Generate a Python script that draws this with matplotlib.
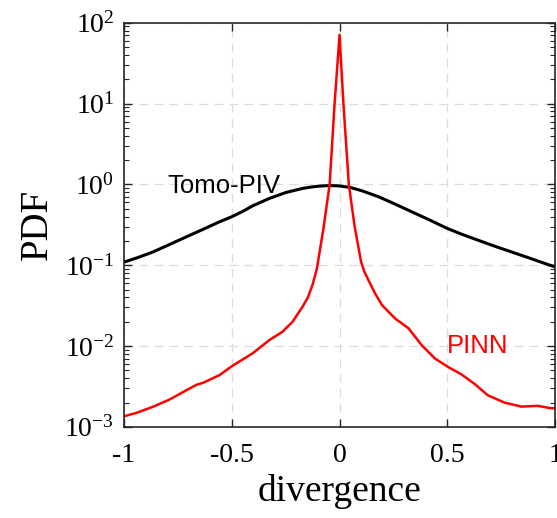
import matplotlib
matplotlib.use('Agg')
import matplotlib.pyplot as plt
import numpy as np
from matplotlib.ticker import LogLocator, NullFormatter

# Tomo-PIV divergence PDF (log10 values)
tomo_x = [-1.0, -0.93, -0.864, -0.79, -0.71, -0.63, -0.557, -0.5, -0.45, -0.403,
          -0.326, -0.249, -0.172, -0.13, -0.095, -0.06, -0.034, 0.0, 0.05, 0.104,
          0.181, 0.258, 0.335, 0.412, 0.5, 0.565, 0.642, 0.719, 0.796, 0.873,
          0.965, 1.0]
tomo_log = [-0.962, -0.90, -0.834, -0.745, -0.648, -0.552, -0.463, -0.40, -0.335, -0.265,
            -0.174, -0.10, -0.05, -0.032, -0.021, -0.016, -0.015, -0.019, -0.038, -0.079,
            -0.153, -0.244, -0.339, -0.433, -0.545, -0.615, -0.69, -0.764, -0.834, -0.904,
            -0.99, -1.02]

# PINN divergence PDF
pinn_x = [-1.0, -0.942, -0.864, -0.787, -0.71, -0.664, -0.633, -0.557, -0.5, -0.403,
          -0.326, -0.265, -0.218, -0.172, -0.147, -0.125, -0.105, -0.075, -0.046, -0.023,
          0.0, 0.018, 0.043, 0.07, 0.1, 0.115, 0.135, 0.165, 0.197, 0.258,
          0.32, 0.381, 0.443, 0.504, 0.565, 0.627, 0.688, 0.765, 0.844, 0.919,
          0.98, 1.0]
pinn_log = [-2.87, -2.827, -2.75, -2.66, -2.546, -2.48, -2.455, -2.36, -2.25, -2.09,
            -1.927, -1.824, -1.70, -1.515, -1.40, -1.24, -1.04, -0.55, 0.0, 1.0,
            1.85, 1.0, 0.0, -0.52, -0.96, -1.08, -1.19, -1.35, -1.494, -1.66,
            -1.78, -1.99, -2.155, -2.26, -2.35, -2.47, -2.61, -2.70, -2.75, -2.74,
            -2.77, -2.77]

plt.rcParams['font.family'] = 'Liberation Serif'
plt.rcParams['mathtext.fontset'] = 'custom'
plt.rcParams['mathtext.rm'] = 'Liberation Serif'
plt.rcParams['axes.unicode_minus'] = False

fig = plt.figure(figsize=(5.57, 5.18), dpi=100)
ax = fig.add_axes([0.2226, 0.176, 0.774, 0.78])

ax.plot(tomo_x, 10 ** np.array(tomo_log), color='black', lw=2.2)
ax.plot(pinn_x, 10 ** np.array(pinn_log), color='#ff0000', lw=1.8)

ax.set_yscale('log')
ax.set_xlim(-1, 1)
ax.set_ylim(1e-3, 1e2)
ax.set_xticks([-1, -0.5, 0, 0.5, 1])
ax.set_xticklabels(['-1', '-0.5', '0', '0.5', '1'])
ax.yaxis.set_major_locator(LogLocator(base=10, numticks=10))
ax.yaxis.set_minor_locator(LogLocator(base=10, subs=np.arange(2, 10), numticks=10))
ax.yaxis.set_minor_formatter(NullFormatter())

ax.grid(True, which='major', color='#dcdcdc', linestyle=(0, (7, 5)), lw=0.9)
ax.tick_params(which='both', direction='in', top=True, right=True, labelsize=20,
               color='#262626')
ax.tick_params(axis='x', pad=12)
ax.tick_params(axis='y', pad=7)
ax.tick_params(which='major', length=6, width=1)
ax.tick_params(which='minor', length=3.5, width=0.8)
for s in ax.spines.values():
    s.set_color('#262626')
    s.set_linewidth(1.2)

ax.set_xlabel('divergence', fontsize=27, labelpad=4)
ax.set_ylabel('PDF', fontsize=28, labelpad=6)

ax.text(-0.8, 0.95, 'Tomo-PIV', family='Liberation Sans', fontsize=18.5, color='black', va='center')
ax.text(0.5, 1.0e-2, 'PINN', family='Liberation Sans', fontsize=18.5, color='#ff0000', va='center')

fig.savefig('out.png', dpi=100)
